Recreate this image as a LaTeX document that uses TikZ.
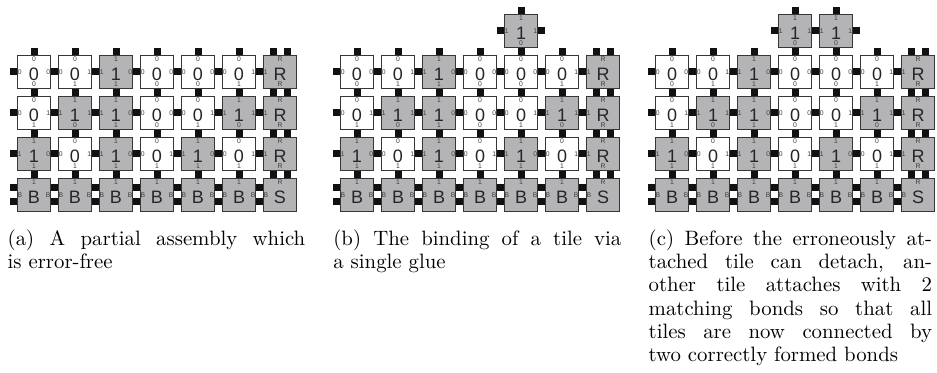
\documentclass[tikz,border=0pt]{standalone}
\usepackage{fontspec}
\newfontfamily\tilefont{Liberation Sans}
\usetikzlibrary{calc}
\definecolor{TileGray}{RGB}{180,180,182}
\definecolor{TileEdge}{RGB}{55,55,55}
\definecolor{PadBlack}{RGB}{17,17,17}
\definecolor{LabelGray}{RGB}{60,60,60}
\colorlet{Fill0}{white}
\colorlet{Fill1}{TileGray}
\tikzset{
 tile/.style={draw=TileEdge,line width=.6pt,minimum size=16.6pt,inner sep=0pt},
 tilelabel/.style={inner sep=0pt,font=\tilefont\fontsize{9}{9}\selectfont,text=black!85},
 glue/.style={inner sep=0pt,font=\tilefont\fontsize{3.4}{3.6}\selectfont,text=LabelGray},
 pad/.style={fill=PadBlack},
 caption/.style={anchor=north west,inner sep=0pt,text width=#1,align=justify,font=\fontsize{10.4}{11.65}\selectfont}}
% tile: name, centre, fill, label, north, east, south, west
\newcommand{\tilebox}[8]{%
 \node[tile,fill=#3] (#1) at (#2) {};
 \node[tilelabel] (#1c) at ([yshift=-1.2pt]#1.center) {#4};
 \node[glue] (#1n) at ([yshift=-2.4pt]#1.north) {#5};
 \node[glue] (#1e) at ([xshift=-1.5pt]#1.east) {#6};
 \node[glue] (#1s) at ([yshift=2.4pt]#1.south) {#7};
 \node[glue] (#1w) at ([xshift=1.5pt]#1.west) {#8};}
% glue pads: tile, offsets (0 = single, -3.5,3.5 = double)
\newcommand{\padN}[2]{\foreach \dd in {#2}{\fill[pad] ([xshift={(\dd-1.75)*1pt}]#1.north) rectangle ++(3.5pt,3.5pt);}}
\newcommand{\padS}[2]{\foreach \dd in {#2}{\fill[pad] ([xshift={(\dd-1.75)*1pt}]#1.south) rectangle ++(3.5pt,-3.5pt);}}
\newcommand{\padE}[2]{\foreach \dd in {#2}{\fill[pad] ([yshift={(\dd-1.75)*1pt}]#1.east) rectangle ++(3.5pt,3.5pt);}}
\newcommand{\padW}[2]{\foreach \dd in {#2}{\fill[pad] ([yshift={(\dd-1.75)*1pt}]#1.west) rectangle ++(-3.5pt,3.5pt);}}
\begin{document}
\begin{tikzpicture}[x=.5pt,y=-.5pt]
\useasboundingbox (0,0) rectangle (937,373);
\foreach \p/\ox in {a/17,b/340,c/655}{
 % counter rows: label/east/south
 \foreach \r/\row in {1/{0/0/0,0/1/1,1/0/1,0/0/0,0/0/0,0/1/1},2/{0/1/1,1/1/0,1/0/1,0/0/0,0/1/1,1/1/0},3/{1/0/1,0/1/1,1/0/1,0/1/1,1/0/1,0/1/1}}{
  \foreach \cv/\ev/\sv [count=\i from 0] in \row{
   \tilebox{\p\r\i}{{\ox+41*\i+17},{31+41*\r}}{Fill\cv}{\cv}{\cv}{\ev}{\sv}{\cv}
   \padN{\p\r\i}{0}\padE{\p\r\i}{0}\padS{\p\r\i}{0}\padW{\p\r\i}{0}}
  % right border column
  \tilebox{\p\r6}{{\ox+263},{31+41*\r}}{TileGray}{R}{R}{}{R}{1}
  \padN{\p\r6}{-3.5,3.5}\padS{\p\r6}{-3.5,3.5}\padW{\p\r6}{0}}
 % seed row
 \foreach \i in {0,...,5}{
  \tilebox{\p4\i}{{\ox+41*\i+17},195}{TileGray}{B}{1}{B}{}{B}
  \padN{\p4\i}{0}\padE{\p4\i}{-3.5,3.5}\padW{\p4\i}{-3.5,3.5}}
 \tilebox{\p46}{{\ox+263},195}{TileGray}{S}{R}{}{}{B}
 \padN{\p46}{-3.5,3.5}\padW{\p46}{-3.5,3.5}}
% attached tiles on top
\tilebox{b04}{{340+41*4+17},31}{TileGray}{1}{1}{1}{0}{1}
\padN{b04}{0}\padE{b04}{0}\padS{b04}{0}\padW{b04}{0}
\foreach \i in {3,4}{
 \tilebox{c0\i}{{655+41*\i+17},31}{TileGray}{1}{1}{1}{0}{1}
 \padN{c0\i}{0}\padE{c0\i}{0}\padS{c0\i}{0}\padW{c0\i}{0}}
% captions
\node[caption=148.8pt] (capa) at (7.3,229.4) {(a) A partial assembly which\linebreak is error-free};
\node[caption=144pt] (capb) at (333,229.4) {(b) The binding of a tile via\linebreak a single glue};
\node[caption=141.7pt] (capc) at (648.3,229.4) {(c) Before the erroneously at-\linebreak tached tile can detach, an-\linebreak other tile attaches with 2\linebreak matching bonds so that all\linebreak tiles are now connected by\linebreak two correctly formed bonds};
\end{tikzpicture}
\end{document}
